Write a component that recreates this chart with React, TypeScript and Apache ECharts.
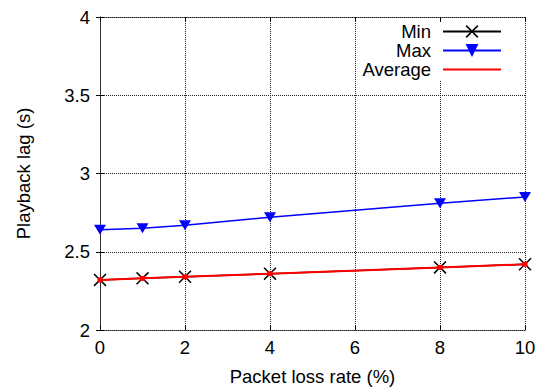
import React, { useEffect, useRef } from "react";
import * as echarts from "echarts";

const lossRates = [0, 1, 2, 4, 8, 10];
const minLag = [2.32, 2.33, 2.34, 2.36, 2.4, 2.42];
const maxLag = [2.64, 2.65, 2.67, 2.72, 2.81, 2.85];
const avgLag = [2.32, 2.33, 2.34, 2.36, 2.4, 2.42];
const xTicks = { min: 0, max: 10, interval: 2 };
const yTicks = { min: 2, max: 4, interval: 0.5 };

const FONT = "'Liberation Sans', Arial, sans-serif";
const FS = 18.5;
const X_SYMBOL = "path://M1,0L12,11L11,12L0,1ZM11,0L12,1L1,12L0,11Z";

export default function App() {
  const ref = useRef<HTMLDivElement>(null);
  useEffect(() => {
    if (!ref.current) return;
    const chart = echarts.init(ref.current, null, { renderer: "svg" });
    const pair = (ys: number[]) => lossRates.map((x, i) => [x, ys[i]]);
    const dotted = { type: "dotted" as const, color: "#222", width: 1 };
    const tick = { show: true, inside: true, length: 4, lineStyle: { color: "#000", width: 1 } };
    chart.setOption({
      animation: false,
      textStyle: { fontFamily: FONT },
      grid: { left: 100, right: 18, top: 17, bottom: 60, show: false },
      legend: {
        orient: "vertical",
        right: 21,
        top: 22,
        align: "right",
        itemWidth: 58,
        itemHeight: 16,
        itemGap: 0,
        padding: [0, 20, 1, 4],
        backgroundColor: "#fff",
        textStyle: { fontSize: FS, color: "#000", fontFamily: FONT, lineHeight: 19, padding: [0, 7, 0, 0] },
        data: [
          { name: "Min" },
          { name: "Max" },
          { name: "Average", itemStyle: { opacity: 0 } },
        ],
      },
      xAxis: [
        {
          type: "value",
          ...xTicks,
          name: "Packet loss rate (%)",
          nameLocation: "middle",
          nameGap: 37,
          nameTextStyle: { fontSize: FS, color: "#000", fontFamily: FONT },
          axisLine: { show: true, lineStyle: dotted },
          axisTick: tick,
          axisLabel: { fontSize: FS, color: "#000", margin: 8, fontFamily: FONT },
          splitLine: { show: true, lineStyle: dotted },
        },
        {
          type: "value",
          position: "top",
          ...xTicks,
          axisLine: { show: true, lineStyle: dotted },
          axisTick: tick,
          axisLabel: { show: false },
          splitLine: { show: false },
        },
      ],
      yAxis: [
        {
          type: "value",
          ...yTicks,
          name: "Playback lag (s)",
          nameLocation: "middle",
          nameGap: 67,
          nameTextStyle: { fontSize: FS, color: "#000", fontFamily: FONT },
          axisLine: { show: true, lineStyle: dotted },
          axisTick: tick,
          axisLabel: { fontSize: FS, color: "#000", margin: 10, fontFamily: FONT },
          splitLine: { show: true, lineStyle: dotted },
        },
        {
          type: "value",
          position: "right",
          ...yTicks,
          axisLine: { show: true, lineStyle: dotted },
          axisTick: tick,
          axisLabel: { show: false },
          splitLine: { show: false },
        },
      ],
      series: [
        {
          name: "Min",
          type: "line",
          data: pair(minLag),
          symbol: X_SYMBOL,
          symbolSize: 13,
          lineStyle: { color: "#000", width: 1.5 },
          itemStyle: { color: "#000" },
        },
        {
          name: "Max",
          type: "line",
          data: pair(maxLag),
          symbol: "triangle",
          symbolRotate: 180,
          symbolSize: [12, 10],
          lineStyle: { color: "#0000ff", width: 1.5 },
          itemStyle: { color: "#0000ff" },
        },
        {
          name: "Average",
          type: "line",
          data: pair(avgLag),
          symbol: "rect",
          symbolSize: 5,
          lineStyle: { color: "#ff0000", width: 2 },
          itemStyle: { color: "#ff0000" },
        },
      ],
    });
    return () => chart.dispose();
  }, []);
  return <div ref={ref} style={{ width: 543, height: 391, position: "absolute", left: 0, top: 0 }} />;
}
